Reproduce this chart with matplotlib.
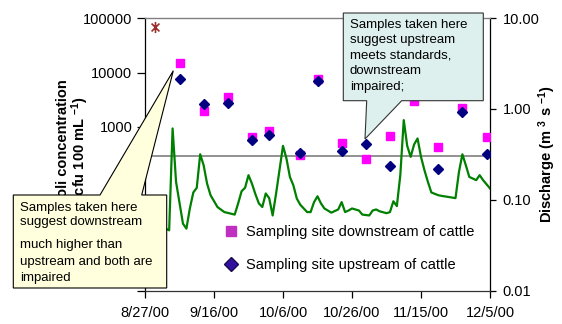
import numpy as np
import pandas as pd
import matplotlib
matplotlib.use("Agg")
import matplotlib.pyplot as plt
import matplotlib.dates as mdates
from matplotlib.path import Path
from matplotlib.patches import Polygon
from matplotlib.lines import Line2D
from matplotlib.ticker import FixedLocator, FuncFormatter, NullLocator

plt.rcParams['font.family'] = ['Liberation Sans', 'DejaVu Sans']
plt.rcParams['mathtext.fontset'] = 'custom'
plt.rcParams['mathtext.rm'] = 'Liberation Sans'
plt.rcParams['mathtext.bf'] = 'Liberation Sans:bold'
plt.rcParams['mathtext.it'] = 'Liberation Sans:italic'

# ---------------- data ----------------
start_date = "2000-08-27"
end_date = "2000-12-05"
tick_dates = ["2000-08-27", "2000-09-16", "2000-10-06", "2000-10-26", "2000-11-15", "2000-12-05"]

sample_dates = ["2000-09-06", "2000-09-13", "2000-09-20", "2000-09-27", "2000-10-02",
                "2000-10-11", "2000-10-16", "2000-10-23", "2000-10-30", "2000-11-06",
                "2000-11-13", "2000-11-20", "2000-11-27", "2000-12-04"]
downstream = [14800, 1990, 3600, 656, 845, 303, 7700, 515, 255, 684, 3000, 430, 2260, 647]
upstream = [7500, 2640, 2790, 577, 722, 337, 6980, 367, 482, 195, np.nan, 172, 1910, 315]

peak_dates = ["2000-08-30"]
peak_values = [67400]

standard_value = 298

discharge_day = [0, 3, 6, 7, 8, 9, 11, 12, 13, 14, 15, 16, 17, 18, 19, 21, 23, 26, 27, 28,
                 29, 30, 31, 32, 33, 34, 35, 36, 37, 38, 40, 41, 42, 43, 44, 45, 47, 48, 49, 50,
                 51, 52, 54, 56, 57, 58, 59, 60, 62, 63, 65, 66, 67, 68, 70, 71, 72, 73, 74, 75,
                 76, 77, 78, 79, 80, 81, 82, 83, 85, 86, 88, 90, 91, 92, 93, 94, 96, 97, 98, 100]
discharge = [0.055, 0.050, 0.048, 0.046, 0.608, 0.157, 0.0545, 0.048, 0.080, 0.120,
             0.135, 0.316, 0.239, 0.150, 0.112, 0.083, 0.073, 0.0685, 0.091, 0.124,
             0.135, 0.186, 0.150, 0.115, 0.091, 0.083, 0.117, 0.104, 0.067, 0.117,
             0.391, 0.284, 0.178, 0.144, 0.103, 0.088, 0.073, 0.073, 0.094, 0.109,
             0.091, 0.080, 0.072, 0.078, 0.094, 0.073, 0.076, 0.080, 0.076, 0.0685,
             0.067, 0.076, 0.078, 0.0745, 0.071, 0.073, 0.096, 0.085, 0.186, 0.751,
             0.391, 0.296, 0.405, 0.472, 0.296, 0.211, 0.157, 0.120, 0.112, 0.110,
             0.107, 0.104, 0.202, 0.316, 0.239, 0.178, 0.164, 0.186, 0.164, 0.133]

legend_labels = ["Sampling site downstream of cattle", "Sampling site upstream of cattle"]
callout_left = ["Samples taken here", "suggest downstream", "much higher than",
                "upstream and both are", "impaired"]
callout_right = ["Samples taken here", "suggest upstream", "meets standards,",
                 "downstream", "impaired;"]

# ---------------- figure ----------------
W, H = 562, 324
fig = plt.figure(figsize=(W / 100, H / 100), dpi=100)


def fx(x):
    return x / W


def fy(y):
    return 1 - y / H


ax = fig.add_axes([fx(145), fy(290.5), 345 / W, 272.5 / H])
ax2 = ax.twinx()
ax.set_zorder(ax2.get_zorder() + 1)
ax.patch.set_visible(False)

t0 = pd.Timestamp(start_date)
d_num = mdates.date2num(pd.to_datetime(sample_dates))
p_num = mdates.date2num(pd.to_datetime(peak_dates))
q_num = mdates.date2num(t0 + pd.to_timedelta(discharge_day, unit="D"))
x0 = mdates.date2num(pd.Timestamp(start_date))
x1 = mdates.date2num(pd.Timestamp(end_date))

# discharge (right axis)
ax2.plot([x0, x1], [standard_value, standard_value], transform=ax.transData,
         color='#7f7f7f', lw=1.2, zorder=1)
ax2.plot(q_num, discharge, color='#008000', lw=1.6, zorder=2)
ax2.set_yscale('log')
ax2.set_ylim(0.01, 10)
ax2.yaxis.set_major_locator(FixedLocator([0.01, 0.1, 1, 10]))
ax2.yaxis.set_minor_locator(NullLocator())
ax2.yaxis.set_major_formatter(FuncFormatter(lambda v, p: f"{v:.2f}"))
ax2.tick_params(axis='y', direction='out', length=4, width=0.9, pad=5, labelsize=10.5)

# concentrations (left axis)
ax.plot(d_num, downstream, ls='none', marker='s', ms=5.3, mfc='#FF00FF', mec='#FF00FF', zorder=3)
ax.plot(d_num, upstream, ls='none', marker='D', ms=4.6, mfc='#000080', mec='#000080', zorder=4)
star = Path([(0, -1), (0, 1), (-0.71, -0.71), (0.71, 0.71), (-0.71, 0.71), (0.71, -0.71)],
            [Path.MOVETO, Path.LINETO, Path.MOVETO, Path.LINETO, Path.MOVETO, Path.LINETO])
ax.plot(p_num, peak_values, ls='none', marker=star, ms=8, mec='#9B2D2D', mfc='none', mew=1.2, zorder=4)

ax.set_yscale('log')
ax.set_ylim(1, 1e5)
ax.yaxis.set_major_locator(FixedLocator([1, 10, 100, 1000, 10000, 100000]))
ax.yaxis.set_minor_locator(NullLocator())
ax.yaxis.set_major_formatter(FuncFormatter(lambda v, p: "" if v < 5 else f"{v:.0f}"))
ax.tick_params(axis='y', direction='out', length=6, width=0.9, pad=3, labelsize=10.5)

ax.set_xlim(x0, x1)
ax.xaxis.set_major_locator(FixedLocator(mdates.date2num(pd.to_datetime(tick_dates))))


def date_fmt(v, p):
    d = mdates.num2date(v)
    return f"{d.month}/{d.day}/{d:%y}"


ax.xaxis.set_major_formatter(FuncFormatter(date_fmt))
ax.tick_params(axis='x', direction='out', length=5, width=0.9, pad=6, labelsize=10.5)

for s in ['left', 'right', 'top', 'bottom']:
    ax2.spines[s].set_visible(s == 'right')
ax2.spines['right'].set_linewidth(0.9)
ax.spines['right'].set_visible(False)
ax.spines['top'].set_color('#808080')
ax.spines['top'].set_linewidth(1.0)
ax.spines['left'].set_linewidth(0.9)
ax.spines['bottom'].set_linewidth(0.9)
ax.spines['bottom'].set_color('#333333')

# legend
handles = [Line2D([], [], ls='none', marker='s', ms=7.5, mfc='#C030C0', mec='#C030C0'),
           Line2D([], [], ls='none', marker='D', ms=7.5, mfc='#3311A0', mec='#1a0a50')]
fig.legend(handles, legend_labels, loc='center left', bbox_to_anchor=(fx(223.7), fy(248.5)),
           frameon=False, fontsize=10.5, handlelength=1.0, handletextpad=0.5,
           labelspacing=1.35, borderpad=0, borderaxespad=0)

# axis titles
fig.text(fx(63), fy(151), 'E. coli concentration', rotation=90, ha='center', va='center',
         fontweight='bold', fontsize=10.5)
fig.text(fx(80), fy(148), r'(cfu 100 mL $^{\mathbf{-1}}$)', rotation=90, ha='center',
         va='center', fontweight='bold', fontsize=10.5)
fig.text(fx(547), fy(154), r'Discharge (m $^{\mathbf{3}}$ s $^{\mathbf{-1}}$)', rotation=90,
         ha='center', va='center', fontweight='bold', fontsize=10.5)

# callouts
left_poly = [(13.3, 195), (100, 195), (173.3, 70.7), (141.7, 195), (166.7, 195),
             (166.7, 288), (13.3, 288)]
fig.add_artist(Polygon([(fx(a), fy(b)) for a, b in left_poly], closed=True,
                       transform=fig.transFigure, fc='#FFFFDD', ec='black', lw=0.8, zorder=5))
for txt, yy in zip(callout_left, [208.3, 222.3, 245, 262.3, 277.7]):
    fig.text(fx(20), fy(yy), txt, ha='left', va='center', fontsize=9.5, zorder=6)

right_poly = [(343.3, 13), (483.3, 13), (483.3, 100.7), (401.7, 100.7), (365, 139),
              (366.7, 100.7), (343.3, 100.7)]
fig.add_artist(Polygon([(fx(a), fy(b)) for a, b in right_poly], closed=True,
                       transform=fig.transFigure, fc='#DDF0EE', ec='#333333', lw=0.8, zorder=5))
for i, txt in enumerate(callout_right):
    fig.text(fx(350), fy(25 + i * 15.4), txt, ha='left', va='center', fontsize=9.5, zorder=6)

fig.savefig('out.png', dpi=100)
